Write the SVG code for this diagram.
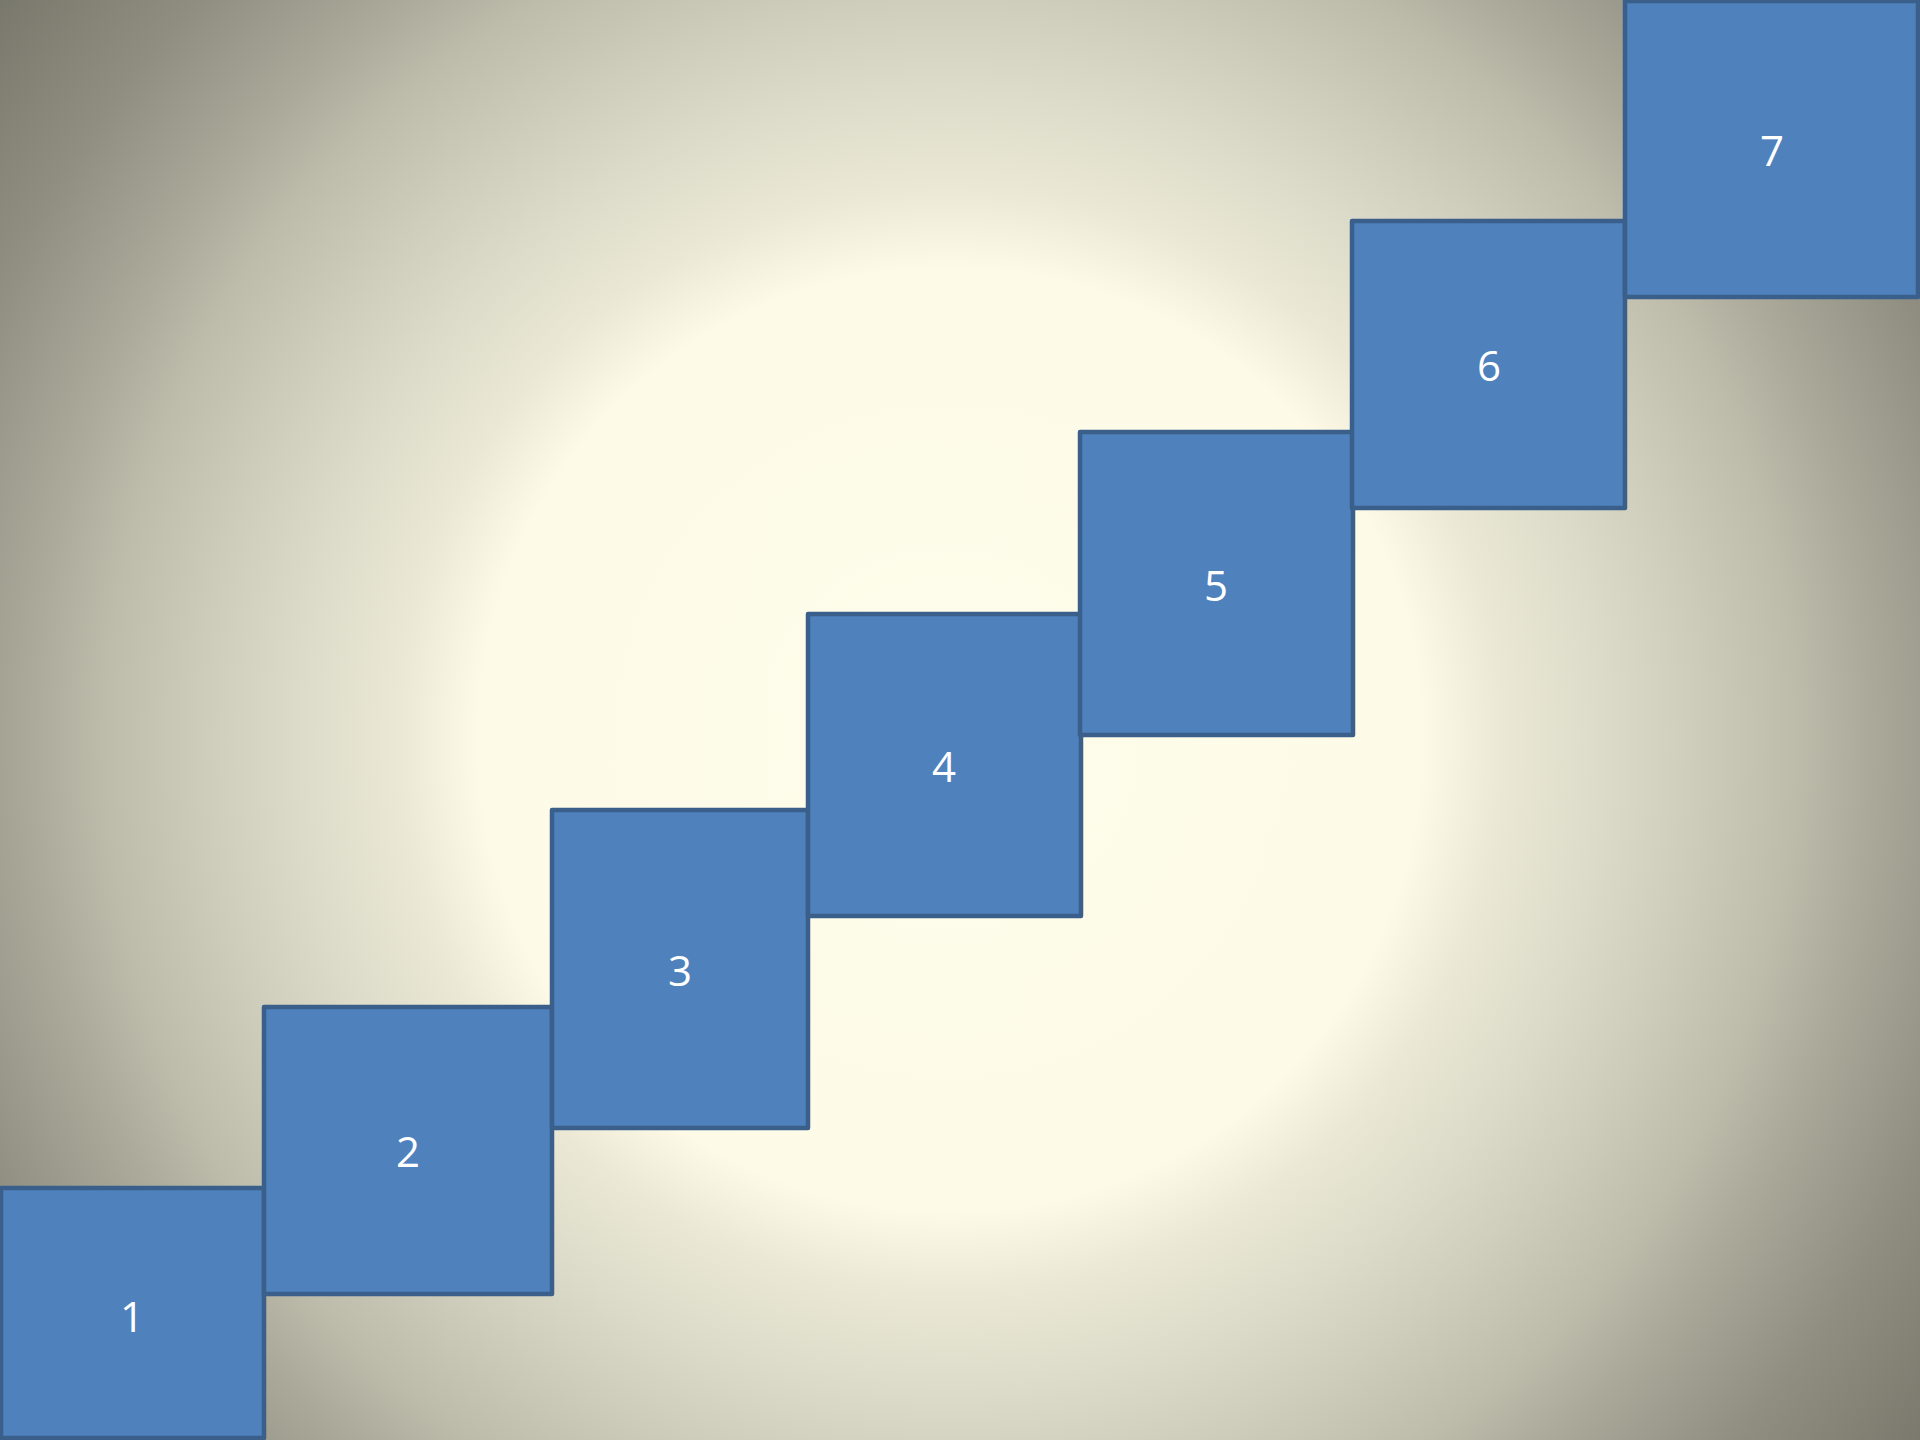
<svg xmlns="http://www.w3.org/2000/svg" width="1920" height="1440" viewBox="0 0 1920 1440">
<defs>
<radialGradient id="bg" gradientUnits="userSpaceOnUse" cx="950" cy="740" r="1210">
<stop offset="0" stop-color="#FEFCEA"/>
<stop offset="0.39" stop-color="#FDFAE8"/>
<stop offset="0.455" stop-color="#EBE8D6"/>
<stop offset="0.54" stop-color="#DCDAC8"/>
<stop offset="0.61" stop-color="#CFCDBB"/>
<stop offset="0.7" stop-color="#BDBBAA"/>
<stop offset="0.785" stop-color="#A4A394"/>
<stop offset="0.87" stop-color="#8F8E81"/>
<stop offset="1" stop-color="#78776B"/>
</radialGradient>
<style>
.box{fill:#4F81BD;stroke:#3A5F8B;stroke-width:4.5;stroke-linejoin:round}
.lbl{fill:#FFFFFF;font-family:"Open Sans","Noto Sans","Liberation Sans",sans-serif;font-size:42px;text-anchor:middle}
</style>
</defs>
<rect x="0" y="0" width="1920" height="1440" fill="url(#bg)"/>
<g id="connectors"/>
<g id="node1"><rect class="box" x="1" y="1188" width="263" height="250"/><text class="lbl" x="132" y="1332">1</text></g>
<g id="node2"><rect class="box" x="264" y="1007" width="288" height="287"/><text class="lbl" x="408" y="1167">2</text></g>
<g id="node3"><rect class="box" x="552" y="810" width="256" height="318"/><text class="lbl" x="680" y="986">3</text></g>
<g id="node4"><rect class="box" x="808" y="614" width="273" height="302"/><text class="lbl" x="944" y="782">4</text></g>
<g id="node5"><rect class="box" x="1080" y="432" width="273" height="303"/><text class="lbl" x="1216" y="601">5</text></g>
<g id="node6"><rect class="box" x="1352" y="221" width="273" height="287"/><text class="lbl" x="1489" y="381">6</text></g>
<g id="node7"><rect class="box" x="1625" y="1" width="293" height="296"/><text class="lbl" x="1772" y="166">7</text></g>
</svg>
